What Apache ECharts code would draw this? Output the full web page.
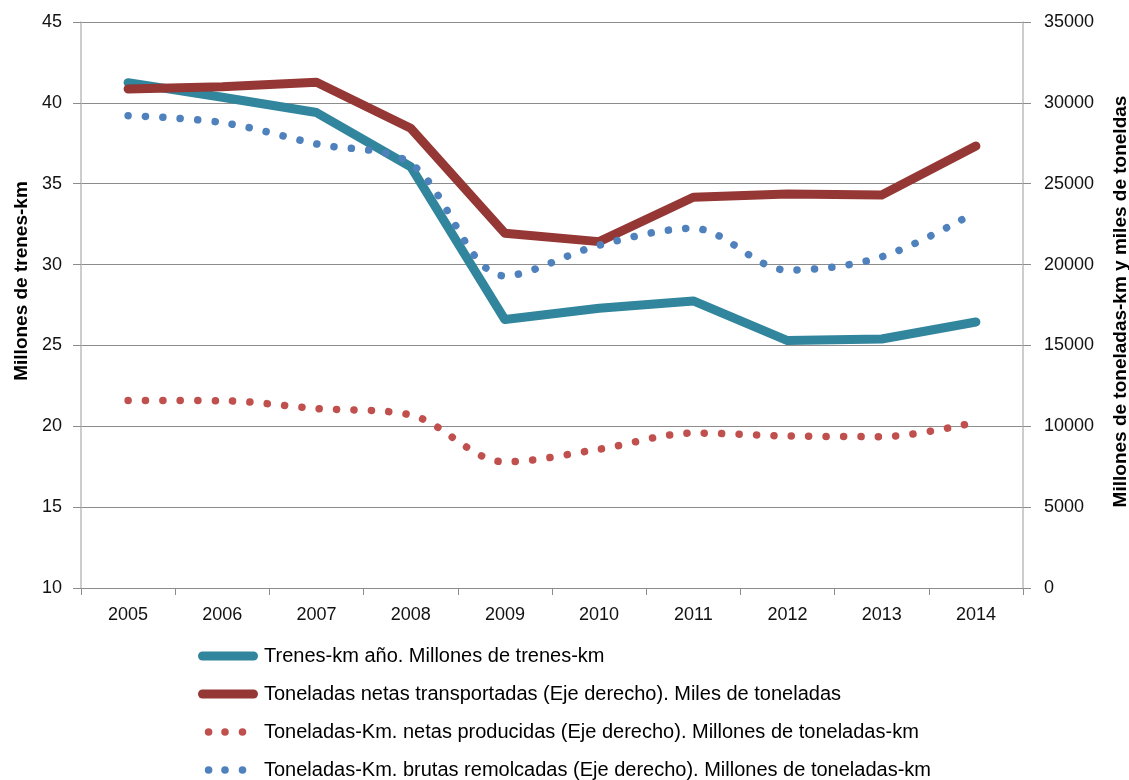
<!DOCTYPE html>
<html>
<head>
<meta charset="utf-8">
<script src="https://cdn.jsdelivr.net/npm/echarts@6/dist/echarts.min.js"></script>
<style>
  html, body { margin: 0; padding: 0; background: #fff; }
  #chart { width: 1129px; height: 780px; }
</style>
</head>
<body>
<div id="chart"></div>
<script>
var years = ['2005', '2006', '2007', '2008', '2009', '2010', '2011', '2012', '2013', '2014'];

// eje izquierdo
var trenesKm = [41.25, 40.35, 39.4, 36.05, 26.6, 27.3, 27.75, 25.3, 25.4, 26.45];
// eje derecho
var toneladasNetas = [30860, 31000, 31270, 28430, 21940, 21420, 24160, 24370, 24300, 27330];
var tkmNetas = [11600, 11580, 11100, 10700, 7800, 8580, 9580, 9400, 9360, 10250];
var tkmBrutas = [29210, 28780, 27460, 26250, 19300, 21200, 22240, 19660, 20480, 23250];

var names = [
    'Trenes-km año. Millones de trenes-km',
    'Toneladas netas transportadas (Eje derecho). Miles de toneladas',
    'Toneladas-Km. netas producidas (Eje derecho). Millones de toneladas-km',
    'Toneladas-Km. brutas remolcadas (Eje derecho). Millones de toneladas-km'
];

var font = '"Liberation Sans", Arial, sans-serif';

// icono de legenda: barra redondeada y tres puntos
var pillIcon = 'path://M4.5,0 L55.5,0 A4.5,4.5 0 0,1 55.5,9 L4.5,9 A4.5,4.5 0 0,1 4.5,0 Z';
var dotsIcon = 'path://M0,0 M60,9 ' +
    'M6.8,4.5 A3.8,3.8 0 1,0 14.4,4.5 A3.8,3.8 0 1,0 6.8,4.5 Z ' +
    'M23.2,4.5 A3.8,3.8 0 1,0 30.8,4.5 A3.8,3.8 0 1,0 23.2,4.5 Z ' +
    'M40.7,4.5 A3.8,3.8 0 1,0 48.3,4.5 A3.8,3.8 0 1,0 40.7,4.5 Z';

var chart = echarts.init(document.getElementById('chart'), null, {renderer: 'canvas'});

var option = {
    animation: false,
    backgroundColor: '#fff',
    grid: {
        left: 81,
        right: 106,
        top: 22,
        bottom: 192,
        containLabel: false,
        outerBoundsMode: 'none'
    },
    legend: {
        orient: 'vertical',
        left: 198,
        top: 646,
        height: 200,
        padding: 0,
        itemWidth: 62,
        itemHeight: 9,
        itemGap: 18,
        selectedMode: false,
        textStyle: {
            fontFamily: font,
            fontSize: 20,
            lineHeight: 20,
            color: '#000'
        },
        data: [
            {name: names[0], icon: pillIcon},
            {name: names[1], icon: pillIcon},
            {name: names[2], icon: dotsIcon},
            {name: names[3], icon: dotsIcon}
        ]
    },
    xAxis: {
        type: 'category',
        data: years,
        boundaryGap: true,
        axisLine: {lineStyle: {color: '#8c8c8c', width: 1}},
        axisTick: {show: true, length: 7, lineStyle: {color: '#8c8c8c'}},
        axisLabel: {
            fontFamily: font,
            fontSize: 18,
            color: '#111',
            margin: 18
        }
    },
    yAxis: [
        {
            type: 'value',
            min: 10,
            max: 45,
            interval: 5,
            position: 'left',
            name: 'Millones de trenes-km',
            nameLocation: 'middle',
            nameRotate: 90,
            nameGap: 50,
            nameTextStyle: {
                fontFamily: font,
                fontSize: 19,
                fontWeight: 'bold',
                color: '#000',
                padding: [0, 0, 0, 48]
            },
            axisLine: {show: true, lineStyle: {color: '#bcbcbc', width: 1.5}},
            axisTick: {show: true, length: 8, lineStyle: {color: '#8c8c8c'}},
            axisLabel: {
                fontFamily: font,
                fontSize: 18,
                color: '#111',
                margin: 19
            },
            splitLine: {show: true, lineStyle: {color: '#8c8c8c', width: 1}}
        },
        {
            type: 'value',
            min: 0,
            max: 35000,
            interval: 5000,
            position: 'right',
            name: 'Millones de toneladas-km y miles de toneldas',
            nameLocation: 'middle',
            nameRotate: 90,
            nameGap: 88,
            nameTextStyle: {
                fontFamily: font,
                fontSize: 19,
                fontWeight: 'bold',
                color: '#000',
                padding: [0, 0, 0, 7]
            },
            axisLine: {show: true, lineStyle: {color: '#bcbcbc', width: 1.5}},
            axisTick: {show: true, length: 8, lineStyle: {color: '#8c8c8c'}},
            axisLabel: {
                fontFamily: font,
                fontSize: 18,
                color: '#111',
                margin: 21,
                formatter: function (v) { return String(v); }
            },
            splitLine: {show: false}
        }
    ],
    series: [
        {
            name: names[0],
            type: 'line',
            yAxisIndex: 0,
            data: trenesKm,
            symbol: 'none',
            color: '#31859c',
            itemStyle: {color: '#31859c'},
            lineStyle: {color: '#31859c', width: 9, cap: 'round', join: 'round'}
        },
        {
            name: names[1],
            type: 'line',
            yAxisIndex: 1,
            data: toneladasNetas,
            symbol: 'none',
            color: '#953735',
            itemStyle: {color: '#953735'},
            lineStyle: {color: '#953735', width: 9, cap: 'round', join: 'round'}
        },
        {
            name: names[2],
            type: 'line',
            yAxisIndex: 1,
            data: tkmNetas,
            symbol: 'none',
            smooth: 0.33,
            color: '#c0504d',
            itemStyle: {color: '#c0504d'},
            lineStyle: {color: '#c0504d', width: 7.5, cap: 'round', type: [0.1, 17.3]}
        },
        {
            name: names[3],
            type: 'line',
            yAxisIndex: 1,
            data: tkmBrutas,
            symbol: 'none',
            smooth: 0.33,
            color: '#4f81bd',
            itemStyle: {color: '#4f81bd'},
            lineStyle: {color: '#4f81bd', width: 7.5, cap: 'round', type: [0.1, 17.3]}
        }
    ]
};

chart.setOption(option);
</script>
</body>
</html>
